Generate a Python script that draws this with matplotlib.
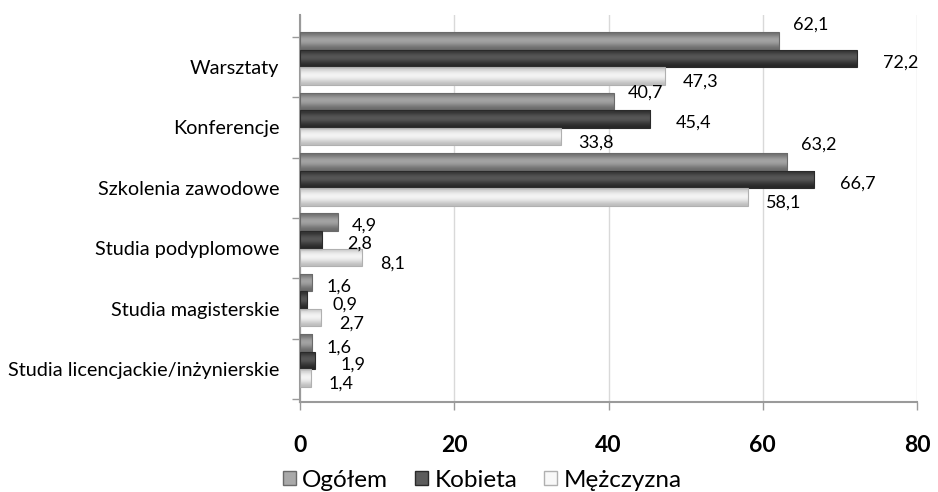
import numpy as np
import matplotlib
matplotlib.use('Agg')
import matplotlib.pyplot as plt
from matplotlib.patches import Patch
from matplotlib.colors import to_rgb

plt.rcParams['font.family'] = ['Lato', 'DejaVu Sans']

# data (top-to-bottom as in the chart)
categories = ['Warsztaty', 'Konferencje', 'Szkolenia zawodowe', 'Studia podyplomowe',
              'Studia magisterskie', 'Studia licencjackie/inżynierskie']
series = ['Ogółem', 'Kobieta', 'Mężczyzna']
ogolem = [62.1, 40.7, 63.2, 4.9, 1.6, 1.6]
kobieta = [72.2, 45.4, 66.7, 2.8, 0.9, 1.9]
mezczyzna = [47.3, 33.8, 58.1, 8.1, 2.7, 1.4]
x_ticks = [0, 20, 40, 60, 80]

# style: vertical gradient per series (top -> bottom), bar offset, label offset (px)
shades = [['#6f6f6f', '#9c9c9c', '#a9a9a9', '#8a8a8a', '#6a6a6a'],
          ['#2e2e2e', '#505050', '#5c5c5c', '#3c3c3c', '#262626'],
          ['#c8c8c8', '#efefef', '#f8f8f8', '#e2e2e2', '#bdbdbd']]
edges = ['#6a6a6a', '#2a2a2a', '#b0b0b0']
offsets = [0.43, 0.14, -0.15]
height = 0.29
label_dx = [14, 26, 18]
label_dy = [-5, -4, -6]        # px, upward
label_tilt = [0.35, 0.0, 0.0]  # px per unit of value (3D perspective of Excel labels)

fig = plt.figure(figsize=(9.38, 4.92), dpi=100)
ax = fig.add_axes([300 / 938, 1 - 402 / 492, 617 / 938, (402 - 15) / 492])

n = len(categories)
ypos = np.arange(n)[::-1]  # first category at top

for si, vals in enumerate([ogolem, kobieta, mezczyzna]):
    y = ypos + offsets[si]
    bars = ax.barh(y, vals, height=height, color='none', edgecolor=edges[si],
                   linewidth=0.8, zorder=4)
    grad = np.array([to_rgb(c) for c in shades[si]])[:, None, :]
    for b, v in zip(bars, vals):
        x0, y0 = b.get_x(), b.get_y()
        im = ax.imshow(grad, extent=[x0, x0 + b.get_width(), y0, y0 + b.get_height()],
                       aspect='auto', interpolation='bicubic', zorder=3)
        im.set_clip_path(b)
        dy = label_dy[si] + label_tilt[si] * v
        ax.annotate(f'{v:.1f}'.replace('.', ','), (v, y0 + b.get_height() / 2),
                    xytext=(label_dx[si] * 0.72, dy * 0.72),
                    textcoords='offset points', ha='left', va='center',
                    fontsize=13, color='black', zorder=5)

ax.set_xlim(0, 80)
ax.set_ylim(-0.546, n - 1 + 0.861)

ax.set_xticks(x_ticks)
ax.set_xticklabels([str(t) for t in x_ticks], fontsize=16.5, fontweight='bold')
ax.tick_params(axis='x', length=6, width=1, color='#9a9a9a', pad=18)

ax.set_yticks(ypos)
ax.set_yticklabels(categories, fontsize=14.3)
ax.tick_params(axis='y', which='major', length=0, pad=15)
ax.set_yticks(np.arange(-1, n) + 0.5, minor=True)
ax.tick_params(axis='y', which='minor', length=6, width=1, color='#9a9a9a')

ax.grid(axis='x', color='#d9d9d9', linewidth=1, zorder=0)
ax.set_axisbelow(True)
for side in ['top', 'right']:
    ax.spines[side].set_visible(False)
for side in ['left', 'bottom']:
    ax.spines[side].set_color('#9a9a9a')
    ax.spines[side].set_linewidth(1.5)

handles = [Patch(facecolor=shades[i][2], edgecolor=edges[i]) for i in range(3)]
fig.legend(handles, series, loc='center', bbox_to_anchor=(0.514, 0.024), ncol=3,
           frameon=False, fontsize=17.5, handlelength=0.55, handleheight=0.55,
           handletextpad=0.25, columnspacing=1.1, borderpad=0)

fig.savefig('out.png', dpi=100)
